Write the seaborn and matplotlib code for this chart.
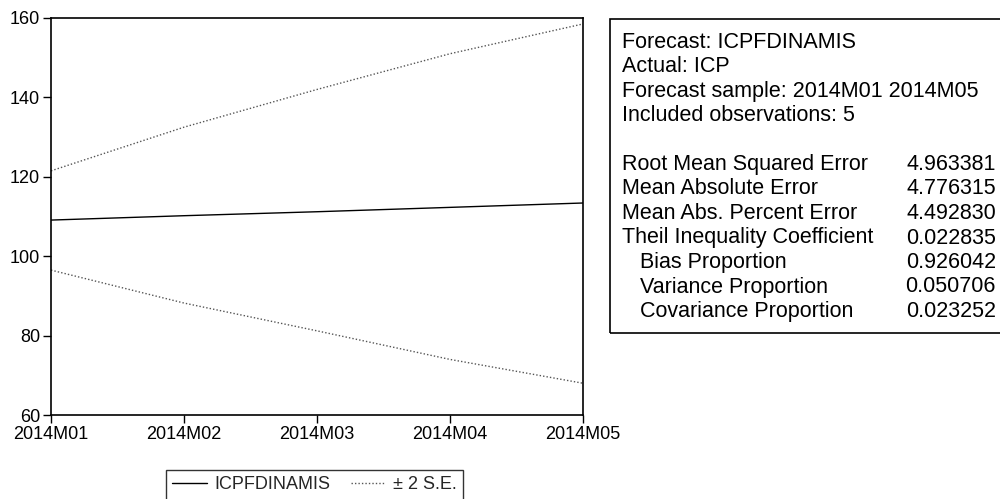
import matplotlib
matplotlib.use("Agg")
import matplotlib.pyplot as plt
import seaborn as sns
import pandas as pd
from matplotlib.lines import Line2D
from matplotlib.patches import Rectangle

periods = ["2014M01", "2014M02", "2014M03", "2014M04", "2014M05"]
forecast = [109.1, 110.2, 111.2, 112.3, 113.4]
upper = [121.5, 132.5, 142.0, 151.0, 158.5]
lower = [96.5, 88.2, 81.2, 74.0, 68.0]

stat_labels = ["Root Mean Squared Error", "Mean Absolute Error",
               "Mean Abs. Percent Error", "Theil Inequality Coefficient",
               "   Bias Proportion", "   Variance Proportion",
               "   Covariance Proportion"]
stat_values = ["4.963381", "4.776315", "4.492830", "0.022835",
               "0.926042", "0.050706", "0.023252"]
header_lines = ["Forecast: ICPFDINAMIS", "Actual: ICP",
                "Forecast sample: 2014M01 2014M05",
                "Included observations: 5"]

sns.set_theme(style="white")
plt.rcParams['font.family'] = ['Liberation Sans', 'DejaVu Sans']

fig = plt.figure(figsize=(10, 4.99), dpi=100)
ax = fig.add_axes([0.051, 1 - 415/499, 0.532, (415-18)/499])

df = pd.DataFrame({"x": range(len(periods)), "forecast": forecast,
                   "upper": upper, "lower": lower})
sns.lineplot(data=df, x="x", y="forecast", ax=ax, color="black", lw=1.0)
sns.lineplot(data=df, x="x", y="upper", ax=ax, color="#555555", lw=1.0,
             linestyle=(0, (1, 1.5)))
sns.lineplot(data=df, x="x", y="lower", ax=ax, color="#555555", lw=1.0,
             linestyle=(0, (1, 1.5)))

ax.set_xlim(0, len(periods) - 1)
ax.set_ylim(60, 160)
ax.set_xticks(range(len(periods)))
ax.set_xticklabels(periods)
ax.set_yticks([60, 80, 100, 120, 140, 160])
ax.set_xlabel("")
ax.set_ylabel("")
for s in ax.spines.values():
    s.set_color("black")
    s.set_linewidth(1.2)
ax.tick_params(axis="both", which="both", direction="out", length=6,
               width=1, color="black", labelsize=13, labelcolor="black",
               pad=2, bottom=True, left=True)

# Legend
handles = [Line2D([], [], color="black", lw=1.0),
           Line2D([], [], color="#555555", lw=1.0, linestyle=(0, (1, 1.5)))]
leg = fig.legend(handles, ["ICPFDINAMIS", "± 2 S.E."], ncol=2,
                 loc="upper left", bbox_to_anchor=(0.166, 1 - 470/499),
                 frameon=True, fancybox=False, fontsize=13,
                 handlelength=1.9, columnspacing=1.1, borderpad=0.35,
                 handletextpad=0.45, borderaxespad=0)
leg.get_frame().set_edgecolor("black")
leg.get_frame().set_linewidth(1.0)

# Stats box
top_px, bot_px = 19, 333
bx0, by0 = 610/1000, 1 - bot_px/499
fig.patches.append(Rectangle((bx0, by0), 1.2 - bx0, (bot_px - top_px)/499,
                             transform=fig.transFigure, fill=False,
                             edgecolor="black", lw=1.2, clip_on=False))
step = 24.5
y = 42
fs = 15.5
for line in header_lines:
    fig.text(622/1000, 1 - y/499, line, fontsize=fs, va="center",
             ha="left", color="black")
    y += step
y += step
for lab, val in zip(stat_labels, stat_values):
    fig.text(622/1000, 1 - y/499, lab, fontsize=fs, va="center",
             ha="left", color="black")
    fig.text(996/1000, 1 - y/499, val, fontsize=fs, va="center",
             ha="right", color="black")
    y += step

fig.savefig("out.png", dpi=100, facecolor="white")
